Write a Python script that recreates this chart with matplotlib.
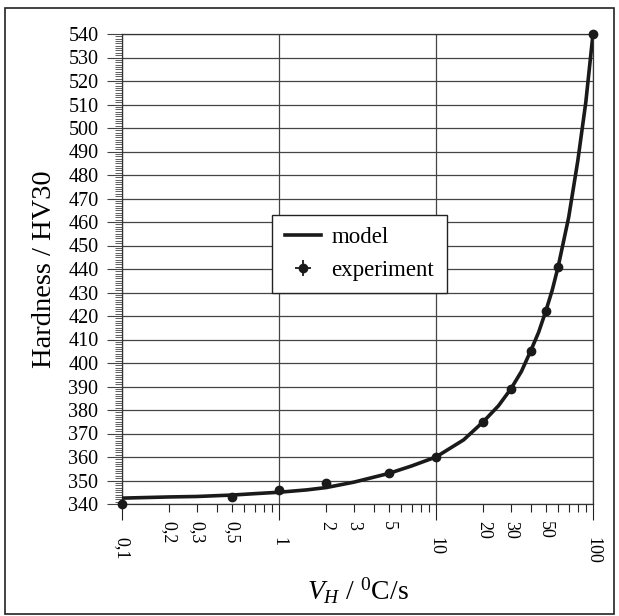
import numpy as np
import matplotlib
matplotlib.use('Agg')
import matplotlib.pyplot as plt
from matplotlib.ticker import LogLocator, FixedLocator, FuncFormatter, MultipleLocator, NullFormatter
from matplotlib.lines import Line2D
from matplotlib.patches import Rectangle

plt.rcParams['font.family'] = ['Liberation Serif', 'DejaVu Serif']
plt.rcParams['mathtext.fontset'] = 'custom'
plt.rcParams['mathtext.rm'] = 'Liberation Serif'
plt.rcParams['mathtext.it'] = 'Liberation Serif:italic'

# experiment data (heating rate, hardness)
exp_rate = [0.1, 0.5, 1, 2, 5, 10, 20, 30, 40, 50, 60, 100]
exp_hv = [340, 343, 346, 349, 353, 360, 375, 389, 405, 422, 441, 540]

# model curve
model_rate = [0.1, 0.2, 0.3, 0.5, 0.7, 1, 1.5, 2, 3, 5, 7, 10, 15, 20, 25, 30, 35, 40, 45,
              50, 55, 60, 70, 80, 90, 100]
model_hv = [342.5, 343, 343.2, 343.8, 344.4, 345, 346, 347, 349.3, 353, 356.2, 360, 367.3, 375,
            381.8, 389, 396.4, 405, 413, 422, 431, 441, 462, 486, 511, 540]

minor_labels = {0.2: '0,2', 0.3: '0,3', 0.5: '0,5', 2: '2', 3: '3', 5: '5', 20: '20', 30: '30', 50: '50'}
major_labels = {0.1: '0,1', 1: '1', 10: '10', 100: '100'}

fig = plt.figure(figsize=(6.19, 6.16), dpi=100)
W, H = 619, 616
ax = fig.add_axes([122 / W, (H - 504) / H, (593 - 122) / W, (504 - 34) / H])

ax.plot(model_rate, model_hv, color='#1a1a1a', lw=2.6, label='model', zorder=3,
        solid_joinstyle='round')
ax.plot(exp_rate, exp_hv, 'o', color='#1a1a1a', ms=6, zorder=4, clip_on=False)

ax.set_xscale('log')
ax.set_xlim(0.1, 100)
ax.set_ylim(340, 540)

# x ticks
ax.xaxis.set_major_locator(FixedLocator(list(major_labels.keys())))
ax.xaxis.set_major_formatter(FuncFormatter(lambda v, p: major_labels.get(round(v, 3), '')))
ax.xaxis.set_minor_locator(LogLocator(base=10, subs=np.arange(2, 10)))
ax.xaxis.set_minor_formatter(FuncFormatter(lambda v, p: minor_labels.get(round(v, 3), '')))
ax.tick_params(axis='x', which='major', direction='out', length=11.5, width=0.8, pad=12,
               labelsize=13, labelrotation=-90, color='#222')
ax.tick_params(axis='x', which='minor', direction='out', length=6, width=0.8, pad=6,
               labelsize=13, labelrotation=-90, color='#222')

# y ticks
ax.yaxis.set_major_locator(MultipleLocator(10))
ax.yaxis.set_minor_locator(MultipleLocator(1))
ax.yaxis.set_minor_formatter(NullFormatter())
ax.tick_params(axis='y', which='major', direction='out', length=11, width=0.8, pad=6,
               labelsize=14.5, color='#444')
ax.tick_params(axis='y', which='minor', direction='out', length=5, width=0.6, color='#444')

ax.grid(True, which='major', axis='both', color='#444', lw=0.9)
ax.set_axisbelow(True)
for s in ax.spines.values():
    s.set_linewidth(0.9)
    s.set_color('#333')

ax.set_ylabel('Hardness / HV30', fontsize=20.5, labelpad=8)
ax.set_xlabel(r'$V_H$ / $^0$C/s', fontsize=20, labelpad=9)

# legend with marker + error-bar style cross
h_line = Line2D([], [], color='#1a1a1a', lw=2.6)
h_dot = Line2D([], [], marker='o', color='#1a1a1a', ms=6, ls='none')
h_cross = Line2D([], [], marker='+', color='#1a1a1a', ms=11, mew=1.3, ls='none')
leg = ax.legend([h_line, (h_dot, h_cross)], ['model', 'experiment'], loc='center',
                bbox_to_anchor=(0.504, 0.532), fontsize=16.5, frameon=True, fancybox=False,
                framealpha=1, edgecolor='#222', handlelength=1.6, borderpad=0.55,
                labelspacing=0.5, handletextpad=0.45, borderaxespad=0)
leg.get_frame().set_linewidth(1.0)

# outer frame
fig.patches.append(Rectangle((5 / W, 2 / H), 609 / W, 606 / H, transform=fig.transFigure,
                             fill=False, edgecolor='#222', lw=1.2))

fig.savefig('out.png', dpi=100)
